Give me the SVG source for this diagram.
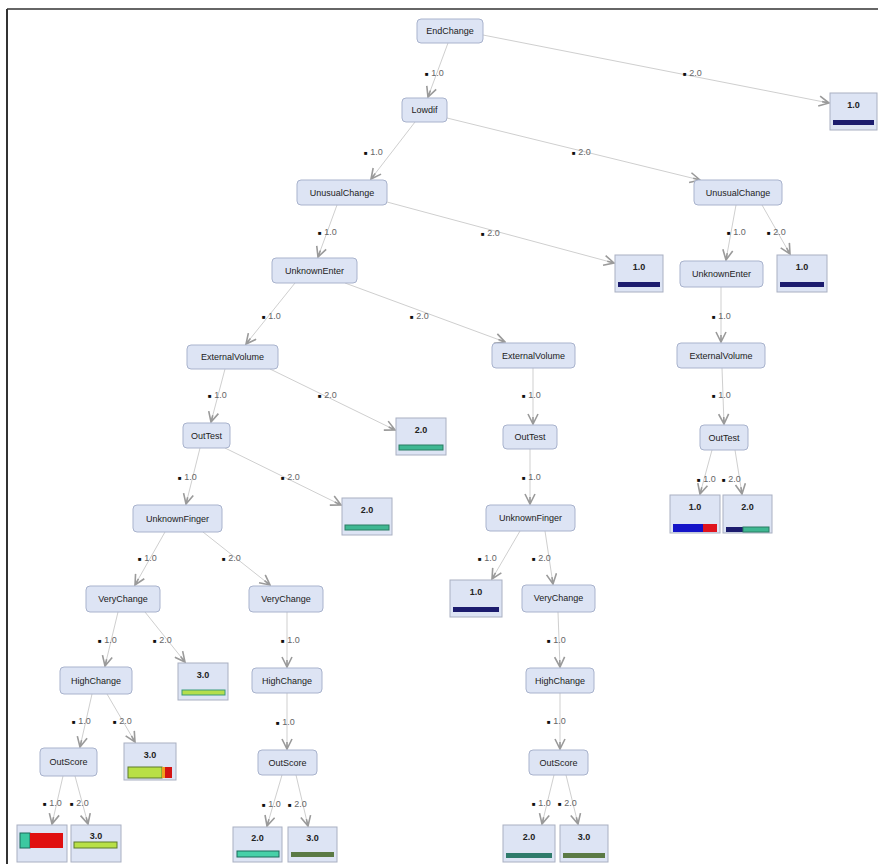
<svg xmlns="http://www.w3.org/2000/svg" width="880" height="864" viewBox="0 0 880 864">
<style>
.n rect{fill:#dde4f4;stroke:#a9b3cd;stroke-width:1}
.n text{font-family:"Liberation Sans",Arial,sans-serif;font-size:9px;fill:#222;text-anchor:middle}
.l rect.b{fill:#dde4f4;stroke:#a9b0c2;stroke-width:1}
.l text{font-family:"Liberation Sans",Arial,sans-serif;font-size:9px;font-weight:bold;fill:#222;text-anchor:middle}
.e line{stroke:#cfcfcf;stroke-width:1;marker-end:url(#ah)}
.e text{font-family:"Liberation Sans",Arial,sans-serif;font-size:9px;fill:#666}
.e tspan.s{font-size:6px;fill:#111}
</style>
<defs>
<marker id="ah" viewBox="0 0 12 12" refX="11" refY="6" markerWidth="12" markerHeight="12" markerUnits="userSpaceOnUse" orient="auto">
<path d="M1,1 L11,6 L1,11 M4,6 L11,6" fill="none" stroke="#9a9a9a" stroke-width="1.6"/>
</marker>
</defs>
<rect x="0" y="0" width="880" height="864" fill="#ffffff"/>
<line x1="7" y1="9" x2="878" y2="9" stroke="#333" stroke-width="1.5"/>
<line x1="7" y1="9" x2="7" y2="864" stroke="#333" stroke-width="2"/>

<g id="edges" class="e">
<line x1="448" y1="43" x2="428" y2="97"/><text x="425" y="76"><tspan class="s">■</tspan> 1.0</text>
<line x1="483" y1="35" x2="829" y2="103"/><text x="683" y="76"><tspan class="s">■</tspan> 2.0</text>
<line x1="415" y1="122" x2="371" y2="179"/><text x="364" y="155"><tspan class="s">■</tspan> 1.0</text>
<line x1="447" y1="118" x2="700" y2="180"/><text x="572" y="155"><tspan class="s">■</tspan> 2.0</text>
<line x1="337" y1="205" x2="318" y2="257"/><text x="318" y="235"><tspan class="s">■</tspan> 1.0</text>
<line x1="387" y1="202" x2="614" y2="263"/><text x="481" y="236"><tspan class="s">■</tspan> 2.0</text>
<line x1="736" y1="205" x2="726" y2="260"/><text x="727" y="235"><tspan class="s">■</tspan> 1.0</text>
<line x1="762" y1="205" x2="790" y2="254"/><text x="767" y="235"><tspan class="s">■</tspan> 2.0</text>
<line x1="295" y1="283" x2="246" y2="344"/><text x="262" y="319"><tspan class="s">■</tspan> 1.0</text>
<line x1="345" y1="283" x2="505" y2="342"/><text x="410" y="319"><tspan class="s">■</tspan> 2.0</text>
<line x1="721" y1="287" x2="721" y2="342"/><text x="712" y="319"><tspan class="s">■</tspan> 1.0</text>
<line x1="225" y1="369" x2="211" y2="422"/><text x="208" y="398"><tspan class="s">■</tspan> 1.0</text>
<line x1="270" y1="369" x2="395" y2="430"/><text x="318" y="398"><tspan class="s">■</tspan> 2.0</text>
<line x1="533" y1="368" x2="533" y2="424"/><text x="522" y="398"><tspan class="s">■</tspan> 1.0</text>
<line x1="722" y1="368" x2="724" y2="424"/><text x="712" y="398"><tspan class="s">■</tspan> 1.0</text>
<line x1="530" y1="449" x2="530" y2="504"/><text x="522" y="480"><tspan class="s">■</tspan> 1.0</text>
<line x1="712" y1="450" x2="700" y2="494"/><text x="697" y="482"><tspan class="s">■</tspan> 1.0</text>
<line x1="735" y1="450" x2="742" y2="494"/><text x="722" y="482"><tspan class="s">■</tspan> 2.0</text>
<line x1="200" y1="448" x2="186" y2="504"/><text x="178" y="480"><tspan class="s">■</tspan> 1.0</text>
<line x1="225" y1="448" x2="341" y2="505"/><text x="281" y="480"><tspan class="s">■</tspan> 2.0</text>
<line x1="165" y1="532" x2="135" y2="585"/><text x="138" y="561"><tspan class="s">■</tspan> 1.0</text>
<line x1="203" y1="532" x2="270" y2="585"/><text x="222" y="561"><tspan class="s">■</tspan> 2.0</text>
<line x1="520" y1="531" x2="492" y2="579"/><text x="478" y="561"><tspan class="s">■</tspan> 1.0</text>
<line x1="545" y1="531" x2="553" y2="584"/><text x="532" y="561"><tspan class="s">■</tspan> 2.0</text>
<line x1="118" y1="612" x2="105" y2="666"/><text x="98" y="643"><tspan class="s">■</tspan> 1.0</text>
<line x1="145" y1="612" x2="185" y2="662"/><text x="153" y="643"><tspan class="s">■</tspan> 2.0</text>
<line x1="287" y1="612" x2="287" y2="667"/><text x="281" y="643"><tspan class="s">■</tspan> 1.0</text>
<line x1="558" y1="612" x2="560" y2="667"/><text x="547" y="643"><tspan class="s">■</tspan> 1.0</text>
<line x1="92" y1="694" x2="80" y2="747"/><text x="72" y="724"><tspan class="s">■</tspan> 1.0</text>
<line x1="107" y1="694" x2="135" y2="742"/><text x="113" y="724"><tspan class="s">■</tspan> 2.0</text>
<line x1="287" y1="693" x2="287" y2="749"/><text x="276" y="725"><tspan class="s">■</tspan> 1.0</text>
<line x1="560" y1="693" x2="560" y2="749"/><text x="547" y="724"><tspan class="s">■</tspan> 1.0</text>
<line x1="63" y1="776" x2="52" y2="824"/><text x="43" y="806"><tspan class="s">■</tspan> 1.0</text>
<line x1="75" y1="776" x2="88" y2="824"/><text x="70" y="806"><tspan class="s">■</tspan> 2.0</text>
<line x1="282" y1="775" x2="267" y2="826"/><text x="262" y="807"><tspan class="s">■</tspan> 1.0</text>
<line x1="296" y1="775" x2="308" y2="826"/><text x="288" y="807"><tspan class="s">■</tspan> 2.0</text>
<line x1="554" y1="775" x2="542" y2="824"/><text x="532" y="806"><tspan class="s">■</tspan> 1.0</text>
<line x1="566" y1="775" x2="578" y2="824"/><text x="558" y="806"><tspan class="s">■</tspan> 2.0</text>
</g>

<g id="n_endchange" class="n"><rect x="417" y="19" width="66" height="24" rx="4"/><text x="450" y="34">EndChange</text></g>
<g id="n_lowdif" class="n"><rect x="402" y="98" width="45" height="24" rx="4"/><text x="424.5" y="113">Lowdif</text></g>
<g id="n_unusual_l" class="n"><rect x="297" y="180" width="90" height="25" rx="4"/><text x="342" y="196">UnusualChange</text></g>
<g id="n_unusual_r" class="n"><rect x="694" y="180" width="88" height="25" rx="4"/><text x="738" y="196">UnusualChange</text></g>
<g id="n_unkenter_l" class="n"><rect x="272" y="258" width="85" height="25" rx="4"/><text x="314.5" y="274">UnknownEnter</text></g>
<g id="n_unkenter_r" class="n"><rect x="680" y="261" width="83" height="26" rx="4"/><text x="721.5" y="277">UnknownEnter</text></g>
<g id="n_extvol_l" class="n"><rect x="187" y="345" width="91" height="24" rx="4"/><text x="232.5" y="360">ExternalVolume</text></g>
<g id="n_extvol_m" class="n"><rect x="492" y="343" width="83" height="25" rx="4"/><text x="533.5" y="359">ExternalVolume</text></g>
<g id="n_extvol_r" class="n"><rect x="677" y="343" width="88" height="25" rx="4"/><text x="721" y="359">ExternalVolume</text></g>
<g id="n_outtest_l" class="n"><rect x="183" y="423" width="47" height="25" rx="4"/><text x="206.5" y="439">OutTest</text></g>
<g id="n_outtest_m" class="n"><rect x="503" y="425" width="54" height="24" rx="4"/><text x="530" y="440">OutTest</text></g>
<g id="n_outtest_r" class="n"><rect x="700" y="425" width="48" height="25" rx="4"/><text x="724" y="441">OutTest</text></g>
<g id="n_unkfinger_l" class="n"><rect x="133" y="505" width="89" height="27" rx="4"/><text x="177.5" y="522">UnknownFinger</text></g>
<g id="n_unkfinger_m" class="n"><rect x="486" y="505" width="89" height="26" rx="4"/><text x="530.5" y="521">UnknownFinger</text></g>
<g id="n_verychange_l" class="n"><rect x="86" y="586" width="74" height="26" rx="4"/><text x="123" y="602">VeryChange</text></g>
<g id="n_verychange_m" class="n"><rect x="249" y="586" width="74" height="26" rx="4"/><text x="286" y="602">VeryChange</text></g>
<g id="n_verychange_mr" class="n"><rect x="522" y="585" width="73" height="27" rx="4"/><text x="558.5" y="601">VeryChange</text></g>
<g id="n_highchange_l" class="n"><rect x="60" y="667" width="72" height="27" rx="4"/><text x="96" y="684">HighChange</text></g>
<g id="n_highchange_m" class="n"><rect x="252" y="668" width="70" height="25" rx="4"/><text x="287" y="684">HighChange</text></g>
<g id="n_highchange_mr" class="n"><rect x="526" y="668" width="68" height="25" rx="4"/><text x="560" y="684">HighChange</text></g>
<g id="n_outscore_l" class="n"><rect x="40" y="748" width="57" height="28" rx="4"/><text x="68.5" y="765">OutScore</text></g>
<g id="n_outscore_m" class="n"><rect x="258" y="750" width="59" height="25" rx="4"/><text x="287.5" y="766">OutScore</text></g>
<g id="n_outscore_mr" class="n"><rect x="529" y="750" width="59" height="25" rx="4"/><text x="558.5" y="766">OutScore</text></g>

<g id="leaf_top" class="l"><rect class="b" x="830" y="93" width="47" height="37"/><text x="853.5" y="108">1.0</text><rect x="833" y="120" width="41" height="5" fill="#1c1c6e"/></g>
<g id="leaf_mid1" class="l"><rect class="b" x="615" y="255" width="48" height="37"/><text x="639" y="270">1.0</text><rect x="618" y="282" width="42" height="5" fill="#1c1c6e"/></g>
<g id="leaf_right1" class="l"><rect class="b" x="777" y="255" width="50" height="37"/><text x="802" y="270">1.0</text><rect x="780" y="282" width="44" height="5" fill="#1c1c6e"/></g>
<g id="leaf_ev2" class="l"><rect class="b" x="396" y="418" width="50" height="37"/><text x="421" y="433">2.0</text><rect x="399" y="445" width="44" height="5" fill="#3fb792" stroke="#2a7d63" stroke-width="1"/></g>
<g id="leaf_ot2" class="l"><rect class="b" x="342" y="498" width="50" height="37"/><text x="367" y="513">2.0</text><rect x="345" y="525" width="44" height="5" fill="#3fb792" stroke="#2a7d63" stroke-width="1"/></g>
<g id="leaf_otr1" class="l"><rect class="b" x="670" y="495" width="50" height="38"/><text x="695" y="510">1.0</text><rect x="673" y="524" width="30" height="8" fill="#1414c8"/><rect x="703" y="524" width="14" height="8" fill="#e0141e"/></g>
<g id="leaf_otr2" class="l"><rect class="b" x="723" y="495" width="49" height="38"/><text x="747.5" y="510">2.0</text><rect x="726" y="527" width="17" height="5" fill="#1c1c6e"/><rect x="743" y="527" width="26" height="5" fill="#3fb792" stroke="#2a7d63" stroke-width="1"/></g>
<g id="leaf_uf1" class="l"><rect class="b" x="450" y="580" width="52" height="37"/><text x="476" y="595">1.0</text><rect x="453" y="607" width="46" height="5" fill="#1c1c6e"/></g>
<g id="leaf_vc3" class="l"><rect class="b" x="178" y="663" width="50" height="37"/><text x="203" y="678">3.0</text><rect x="182" y="690" width="43" height="5" fill="#b4de4c" stroke="#3a9a7a" stroke-width="1"/></g>
<g id="leaf_hc3" class="l"><rect class="b" x="124" y="743" width="52" height="37"/><text x="150" y="758">3.0</text><rect x="128" y="767" width="34" height="11" fill="#b8e046" stroke="#5c7a2a" stroke-width="1"/><rect x="162" y="767" width="3" height="11" fill="#f0a020"/><rect x="165" y="767" width="7" height="11" fill="#d41414"/></g>
<g id="leaf_os4" class="l"><rect class="b" x="17" y="825" width="50" height="37"/><text x="42" y="839">4.0</text><rect x="20" y="833" width="10" height="15" fill="#3cc8a0" stroke="#1a6a5a" stroke-width="1"/><rect x="30" y="833" width="33" height="15" fill="#e01010"/></g>
<g id="leaf_os3" class="l"><rect class="b" x="71" y="825" width="50" height="37"/><text x="96" y="839">3.0</text><rect x="74" y="842" width="43" height="6" fill="#b8e046" stroke="#5c7a2a" stroke-width="1"/></g>
<g id="leaf_osm2" class="l"><rect class="b" x="233" y="827" width="49" height="35"/><text x="257.5" y="841">2.0</text><rect x="237" y="851" width="42" height="6" fill="#46d0a8" stroke="#1a6a5a" stroke-width="1"/></g>
<g id="leaf_osm3" class="l"><rect class="b" x="288" y="827" width="49" height="35"/><text x="312.5" y="841">3.0</text><rect x="291" y="852" width="43" height="5" fill="#5b7a45"/></g>
<g id="leaf_osmr2" class="l"><rect class="b" x="503" y="825" width="52" height="37"/><text x="529" y="840">2.0</text><rect x="506" y="853" width="46" height="5" fill="#2f7b6b"/></g>
<g id="leaf_osmr3" class="l"><rect class="b" x="560" y="825" width="48" height="37"/><text x="584" y="840">3.0</text><rect x="563" y="853" width="42" height="5" fill="#5b7a45"/></g>
</svg>
